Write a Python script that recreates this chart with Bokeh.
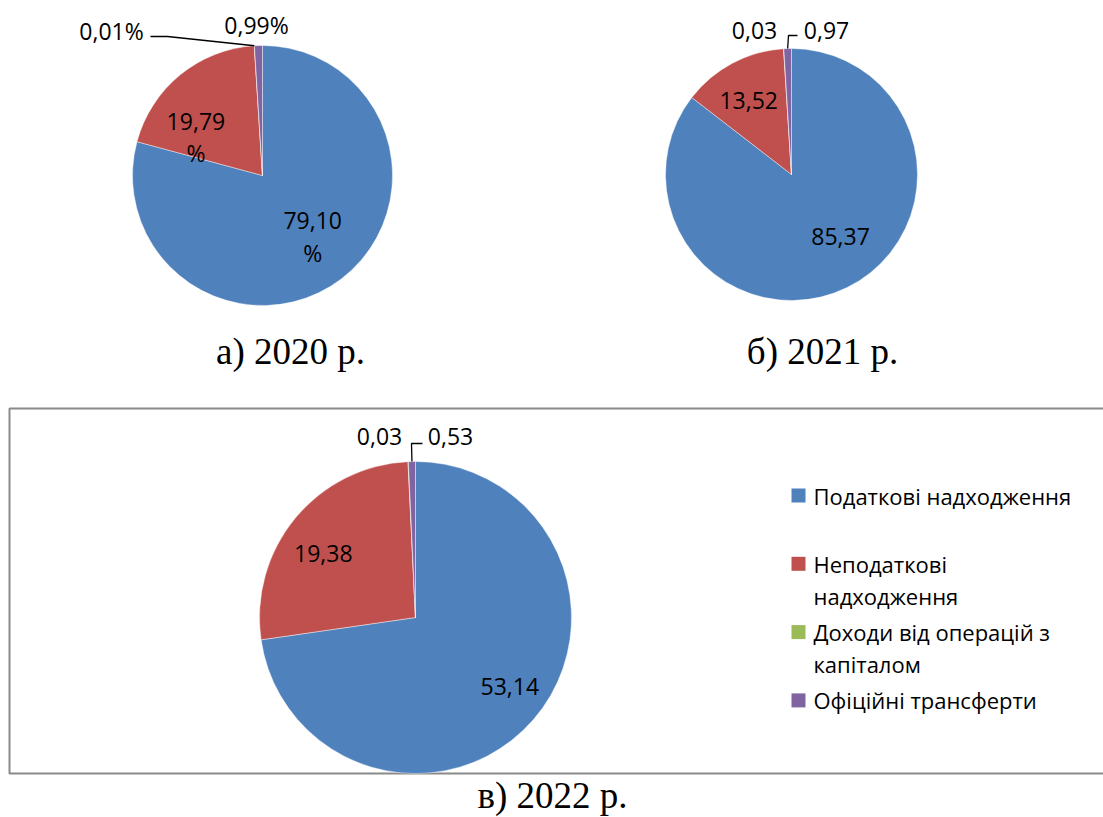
import math
import textwrap
from bokeh.plotting import figure
from bokeh.models import Range1d, ColumnDataSource
from bokeh.core.properties import value
from bokeh.embed import file_html
from bokeh.resources import INLINE

# ---------------- data ----------------
categories = ["Податкові надходження", "Неподаткові надходження",
              "Доходи від операцій з капіталом", "Офіційні трансферти"]
colors = ["#4F81BD", "#C0504D", "#9BBB59", "#8064A2"]
values_2020 = [79.10, 19.79, 0.01, 0.99]
values_2021 = [85.37, 13.52, 0.03, 0.97]
values_2022 = [53.14, 19.38, 0.03, 0.53]
captions = ["а) 2020 р.", "б) 2021 р.", "в) 2022 р."]

# ---------------- figure (data units == screen pixels) ----------------
W, H = 1103, 817
OX, OY = 0, 0
p = figure(width=W, height=H, x_range=Range1d(OX, OX + W), y_range=Range1d(-(OY + H), -OY),
           output_backend="svg", toolbar_location=None,
           x_axis_location=None, y_axis_location=None, min_border=0)
p.grid.visible = False
p.outline_line_color = None
p.background_fill_color = "white"
p.border_fill_color = "white"


def Y(sy):
    return -sy


LABEL_FONT = value("Open Sans")
LABEL_SIZE = "23px"

# frame around the 2022 chart
p.line([1115, 9, 9, 1115], [Y(408), Y(408), Y(773), Y(773)], line_color="#8a8a8a", line_width=2)


def pie(vals, cx, cy, r, specs, pct):
    total = sum(vals)
    cum = 0.0
    starts, ends, mids = [], [], []
    for v in vals:
        a0 = math.pi / 2 - 2 * math.pi * cum / total
        cum += v
        a1 = math.pi / 2 - 2 * math.pi * cum / total
        starts.append(a1)
        ends.append(a0)
        mids.append((a0 + a1) / 2)
    src = ColumnDataSource(dict(x=[cx] * len(vals), y=[Y(cy)] * len(vals),
                                start=starts, end=ends, color=colors[:len(vals)]))
    p.wedge(x="x", y="y", radius=r, start_angle="start", end_angle="end",
            fill_color="color", line_color="white", line_width=0.6, line_alpha=0.7, source=src)
    for i, v in enumerate(vals):
        txt = f"{v:.2f}".replace(".", ",") + ("%" if pct else "")
        spec = specs[i]
        if spec[0] == "in":
            _, frac, shift, wrap = spec
            th = mids[i] + math.radians(shift)
            lx = cx + frac * r * math.cos(th)
            ly = cy - frac * r * math.sin(th)
            lines = [txt[:-1], "%"] if wrap else [txt]
        else:
            _, dx, dy, leader = spec
            lx, ly = cx + dx, cy + dy
            if leader:
                sx = cx + r * math.cos(mids[i])
                sy = cy - r * math.sin(mids[i])
                pts = [(sx, sy)] + [(cx + ex, cy + ey) for ex, ey in leader]
                p.line([q[0] for q in pts], [Y(q[1]) for q in pts],
                       line_color="black", line_width=1.3)
            lines = [txt]
        n = len(lines)
        for k, ln in enumerate(lines):
            yy = ly + (k - (n - 1) / 2) * 32
            p.text(x=[lx], y=[Y(yy)], text=[ln], text_align="center", text_baseline="middle",
                   text_font=LABEL_FONT, text_font_size=LABEL_SIZE, text_color="black")


# label placement (styling)
specs_2020 = [("in", 0.61, 1.8, True), ("in", 0.59, 21.0, True),
              ("out", -151, -145, [(-95, -139), (-112, -139)]), ("out", -6, -151, None)]
specs_2021 = [("in", 0.63, 12.0, False), ("in", 0.68, 2.0, False),
              ("out", -37, -144, None), ("out", 35, -144, [(-3, -139), (6, -139)])]
specs_2022 = [("in", 0.75, 4.6, False), ("in", 0.72, 4.7, False),
              ("out", -36, -181, None), ("out", 35, -181, [(-4, -174), (7, -174)])]

pie(values_2020, 262, 175, 130, specs_2020, True)
pie(values_2021, 791, 174, 126, specs_2021, False)
pie(values_2022, 415, 617, 156, specs_2022, False)

# captions
cap_pos = [(290, 351), (822, 351), (552, 795)]
for c, (cx, cy) in zip(captions, cap_pos):
    p.text(x=[cx], y=[Y(cy)], text=[c], text_align="center", text_baseline="middle",
           text_font=value("Liberation Serif"), text_font_size="37px", text_color="black")

# legend
for i, (cat, col) in enumerate(zip(categories, colors)):
    y0 = 495 + 68.3 * i
    p.rect(x=[798], y=[Y(y0)], width=14, height=14, fill_color=col, line_color=None)
    for k, ln in enumerate(textwrap.wrap(cat, 21)):
        p.text(x=[813], y=[Y(y0 + 32 * k)], text=[ln], text_align="left", text_baseline="middle",
               text_font=value("Open Sans"), text_font_size="22px", text_color="black")

open("out.html", "w").write(file_html(p, INLINE))
